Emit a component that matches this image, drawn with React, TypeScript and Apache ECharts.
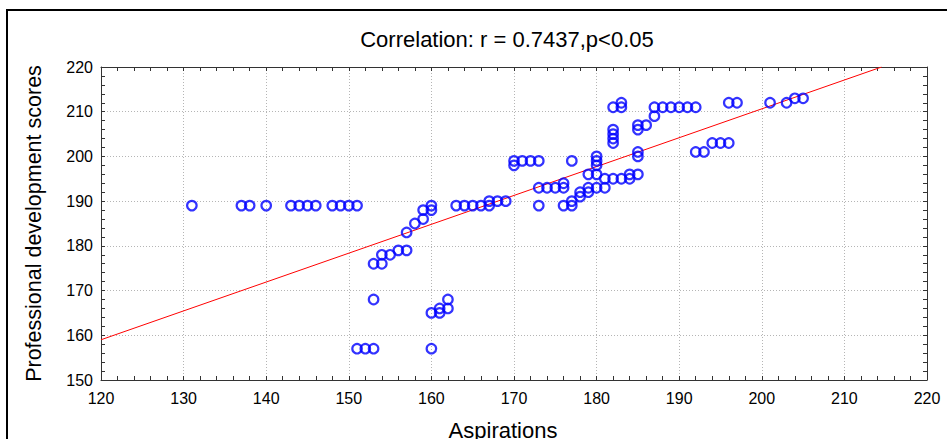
import React, { useEffect, useRef } from "react";
import * as echarts from "echarts";

const titleText = "Correlation: r = 0.7437,p<0.05";
const xName = "Aspirations";
const yName = "Professional development scores";

const aspirations: number[] = [
  131, 137, 138, 140, 143, 144, 145, 146, 148, 149, 150, 151,
  151, 152, 153, 160,
  153, 153, 154, 154, 155, 156, 157, 157, 158, 159, 159, 160, 160,
  160, 161, 161, 162, 162,
  163, 164, 165, 166, 167, 167, 168, 169,
  170, 170, 171, 172, 173, 177,
  173, 173, 174, 175, 176, 176, 176, 177, 177, 178, 178, 179, 179, 179, 180, 180, 180, 180, 180, 181, 181, 182, 183, 184, 184, 185,
  182, 183, 183, 182, 182, 182, 182,
  185, 185, 186, 187, 187, 188, 189, 190, 191, 192,
  185, 185,
  192, 193, 194, 195, 196,
  196, 197, 201, 203, 204, 205,
];

const scores: number[] = [
  189, 189, 189, 189, 189, 189, 189, 189, 189, 189, 189, 189,
  157, 157, 157, 157,
  168, 176, 176, 178, 178, 179, 179, 183, 185, 186, 188, 188, 189,
  165, 165, 166, 166, 168,
  189, 189, 189, 189, 189, 190, 190, 190,
  199, 198, 199, 199, 199, 199,
  193, 189, 193, 193, 194, 193, 189, 190, 189, 191, 192, 192, 193, 196, 193, 196, 200, 199, 198, 193, 195, 195, 195, 195, 196, 196,
  211, 212, 211, 206, 205, 204, 203,
  207, 206, 207, 209, 211, 211, 211, 211, 211, 211,
  201, 200,
  201, 201, 203, 203, 203,
  212, 212, 212, 212, 213, 213,
];

const fitX: number[] = [120, 214.5];
const fitY: number[] = [159.0, 220];

const xMin = 120, xMax = 220, xStep = 10;
const yMin = 150, yMax = 220, yStep = 10;

const FONT = "Liberation Sans, Arial, sans-serif";
const AXIS_COLOR = "#333";

function axisBase(min: number, max: number, step: number) {
  return {
    type: "value" as const,
    min,
    max,
    interval: step,
    axisLine: { show: true, onZero: false, lineStyle: { color: AXIS_COLOR, width: 1 } },
    axisTick: { show: true, inside: true, length: 4, lineStyle: { color: AXIS_COLOR } },
    minorTick: { show: true, splitNumber: 5, length: 4, lineStyle: { color: AXIS_COLOR } },
  };
}

export default function App() {
  const ref = useRef<HTMLDivElement>(null);
  useEffect(() => {
    if (!ref.current) return;
    const chart = echarts.init(ref.current, null, { renderer: "svg" });
    const points = aspirations.map((x, i) => [x, scores[i]]);
    const fit = fitX.map((x, i) => [x, fitY[i]]);
    chart.setOption({
      animation: false,
      backgroundColor: "#fff",
      textStyle: { fontFamily: FONT },
      title: {
        text: titleText,
        left: 502,
        top: 23,
        textAlign: "center",
        textStyle: { fontFamily: FONT, fontSize: 22, fontWeight: "normal", color: "#000" },
      },
      grid: { left: 101, right: 20, top: 67, bottom: 59, containLabel: false },
      xAxis: [
        {
          ...axisBase(xMin, xMax, xStep),
          position: "bottom",
          axisLabel: { color: "#000", fontSize: 16, margin: 10, fontFamily: FONT },
          splitLine: { show: true, lineStyle: { color: "#b5b5b5", type: [1, 2], width: 1 } },
        },
        {
          ...axisBase(xMin, xMax, xStep),
          position: "top",
          axisLabel: { show: false },
          splitLine: { show: false },
        },
      ],
      yAxis: [
        {
          ...axisBase(yMin, yMax, yStep),
          position: "left",
          axisLabel: { color: "#000", fontSize: 16, margin: 8, fontFamily: FONT },
          splitLine: { show: true, lineStyle: { color: "#b5b5b5", type: [1, 2], width: 1 } },
          name: yName,
          nameLocation: "middle",
          nameGap: 56,
          nameTextStyle: { color: "#000", fontSize: 21.5, fontFamily: FONT },
        },
        {
          ...axisBase(yMin, yMax, yStep),
          position: "right",
          axisLabel: { show: false },
          splitLine: { show: false },
        },
      ],
      graphic: [
        {
          type: "rect",
          shape: { x: 7, y: 10, width: 1000, height: 1000 },
          style: { fill: "none", stroke: "#000", lineWidth: 2 },
          silent: true,
        },
        {
          type: "text",
          x: 503,
          y: 430,
          style: {
            text: xName,
            fontSize: 22,
            fontFamily: FONT,
            fill: "#000",
            textAlign: "center",
            textVerticalAlign: "middle",
          },
          silent: true,
        },
      ],
      series: [
        {
          type: "line",
          data: fit,
          xAxisIndex: 0,
          yAxisIndex: 0,
          symbol: "none",
          lineStyle: { color: "#ff0000", width: 1 },
          z: 1,
        },
        {
          type: "scatter",
          data: points,
          xAxisIndex: 0,
          yAxisIndex: 0,
          symbol: "circle",
          symbolSize: 9.5,
          itemStyle: { color: "rgba(0,0,0,0)", borderColor: "#0000ff", borderWidth: 2.2 },
          z: 2,
        },
      ],
    });
    return () => chart.dispose();
  }, []);
  return (
    <div
      ref={ref}
      style={{ position: "fixed", left: 0, top: 0, width: 947, height: 439 }}
    />
  );
}
